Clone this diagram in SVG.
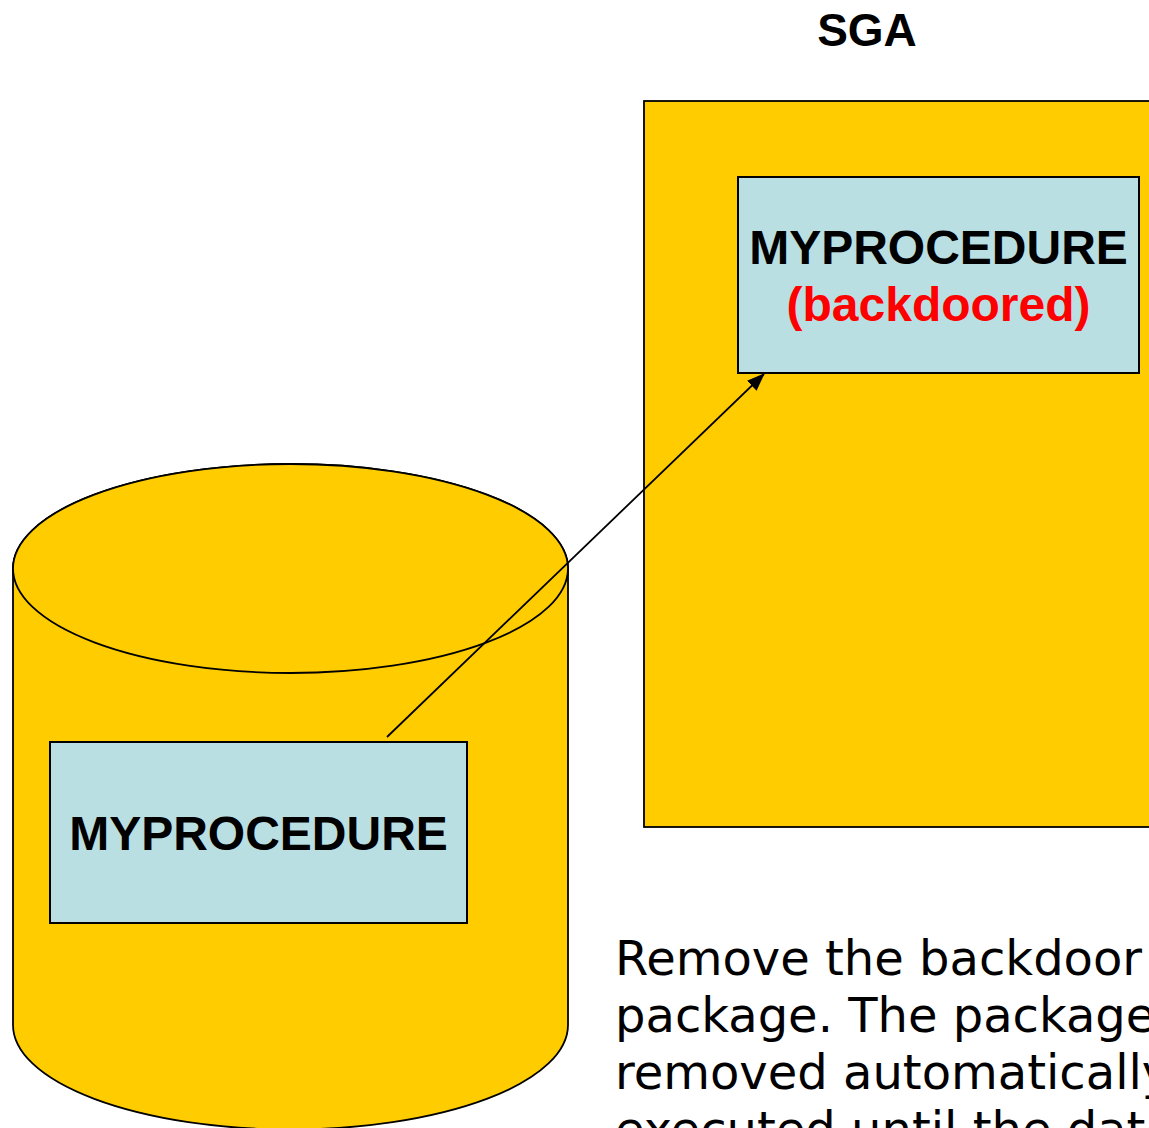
<svg xmlns="http://www.w3.org/2000/svg" width="1149" height="1128" viewBox="0 0 1149 1128">
<style>
.yl{fill:#FFCC00;stroke:#000;stroke-width:1.8}
.box{fill:#B9DFE3;stroke:#000;stroke-width:2}
.b{font-family:"Liberation Sans",Arial,sans-serif;font-weight:bold;text-anchor:middle}
.note{font-family:"DejaVu Sans",Verdana,sans-serif;font-size:48px;fill:#000}
</style>
<defs>
<marker id="ah" markerWidth="18" markerHeight="14" refX="17" refY="7" orient="auto" markerUnits="userSpaceOnUse" viewBox="0 0 18 14">
<path d="M0,0 L18,7 L0,14 z" fill="#000"/>
</marker>
</defs>
<rect width="1149" height="1128" fill="#fff"/>
<g id="sga">
<text class="b" x="867" y="46" font-size="46">SGA</text>
<rect x="644" y="101" width="520" height="726" class="yl" stroke-width="2"/>
</g>
<g id="db">
<path class="yl" d="M13,568.5 L13,1025 A277.5,104.5 0 0 0 568,1025 L568,568.5 A277.5,104.5 0 0 0 13,568.5 Z"/>
<ellipse class="yl" cx="290.5" cy="568.5" rx="277.5" ry="104.5"/>
</g>
<g id="proc-db">
<rect class="box" x="50" y="742" width="417" height="181"/>
<text class="b" x="258.5" y="850" font-size="48">MYPROCEDURE</text>
</g>
<g id="proc-sga">
<rect class="box" x="738" y="177" width="401" height="196"/>
<text class="b" x="938.5" y="264" font-size="48">MYPROCEDURE</text>
<text class="b" x="938.5" y="321" font-size="48" fill="#FF0000">(backdoored)</text>
</g>
<g id="connectors">
<line x1="387" y1="737" x2="764" y2="374" stroke="#000" stroke-width="1.8" marker-end="url(#ah)"/>
</g>
<g id="note">
<text class="note" x="615" y="975">Remove the backdoor</text>
<text class="note" x="615" y="1032">package. The package</text>
<text class="note" x="615" y="1089">removed automatically</text>
<text class="note" x="615" y="1146">executed until the database</text>
</g>
</svg>
